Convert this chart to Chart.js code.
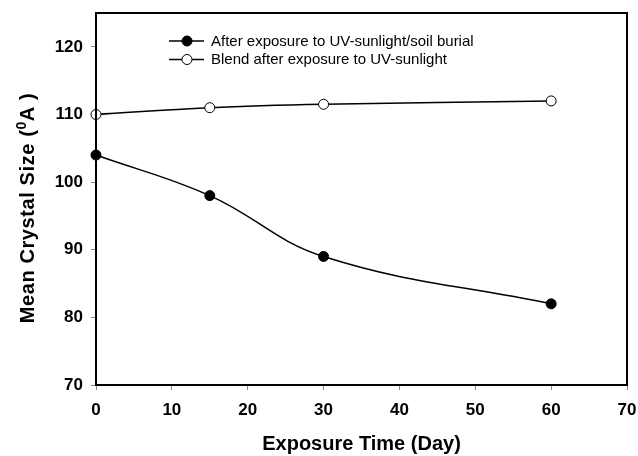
<!DOCTYPE html>
<html>
<head>
<meta charset="utf-8">
<script src="https://cdn.jsdelivr.net/npm/chart.js@4.4.0/dist/chart.umd.min.js"></script>
<style>
html,body{margin:0;padding:0;background:#fff;}
#wrap{width:638px;height:456px;position:relative;}
</style>
</head>
<body>
<div id="wrap"><canvas id="c" width="638" height="456"></canvas></div>
<script>
const days = [0, 15, 30, 60];
const soilBurial = [104, 98, 89, 82];
const blendUV = [110, 111, 111.5, 112];
const seriesNames = ["After exposure to UV-sunlight/soil burial", "Blend after exposure to UV-sunlight"];
const xTicks = [0, 10, 20, 30, 40, 50, 60, 70];
const yTicks = [70, 80, 90, 100, 110, 120];
const xTitle = "Exposure Time (Day)";
const yTitleParts = ["Mean Crystal Size (", "0", "A )"];

const FONT = "'Liberation Sans', Arial, sans-serif";

const frame = {
  id: 'frame',
  afterDatasetsDraw(chart) {
    const {ctx, chartArea: a} = chart;
    ctx.save();
    ctx.strokeStyle = '#000';
    ctx.lineWidth = 2;
    ctx.strokeRect(a.left, a.top, a.right - a.left, a.bottom - a.top);
    // legend
    const items = chart.data.datasets;
    ctx.font = "15px " + FONT;
    ctx.textBaseline = 'middle';
    items.forEach((ds, i) => {
      const y = 41 + i * 18.5;
      ctx.strokeStyle = '#000';
      ctx.lineWidth = 1.5;
      ctx.beginPath(); ctx.moveTo(169, y); ctx.lineTo(204, y); ctx.stroke();
      ctx.beginPath(); ctx.arc(187, y, 5, 0, Math.PI * 2);
      ctx.fillStyle = ds.pointBackgroundColor; ctx.fill();
      ctx.lineWidth = 1; ctx.stroke();
      ctx.fillStyle = '#000';
      ctx.fillText(ds.label, 211, y + 0.5);
    });
    ctx.restore();

    // y axis title (with superscript)
    ctx.save();
    const cy = (a.top + a.bottom) / 2 + 9;
    ctx.translate(34, cy);
    ctx.rotate(-Math.PI / 2);
    ctx.fillStyle = '#000';
    ctx.textBaseline = 'alphabetic';
    ctx.textAlign = 'left';
    if ('letterSpacing' in ctx) ctx.letterSpacing = '0.6px';
    const big = "bold 20px " + FONT, small = "bold 14px " + FONT;
    ctx.font = big; const w0 = ctx.measureText(yTitleParts[0]).width;
    const w2 = ctx.measureText(yTitleParts[2]).width;
    ctx.font = small; const w1 = ctx.measureText(yTitleParts[1]).width;
    let x = -(w0 + w1 + w2) / 2;
    ctx.font = big; ctx.fillText(yTitleParts[0], x, 0); x += w0;
    ctx.font = small; ctx.fillText(yTitleParts[1], x, -8); x += w1;
    ctx.font = big; ctx.fillText(yTitleParts[2], x, 0);
    ctx.restore();
  }
};

new Chart(document.getElementById('c'), {
  type: 'line',
  data: {
    datasets: [
      {
        label: seriesNames[0],
        data: days.map((d, i) => ({x: d, y: soilBurial[i]})),
        borderColor: '#000', borderWidth: 1.5,
        pointBackgroundColor: '#000', pointBorderColor: '#000',
        pointRadius: 5, pointBorderWidth: 1, tension: 0.4, fill: false
      },
      {
        label: seriesNames[1],
        data: days.map((d, i) => ({x: d, y: blendUV[i]})),
        borderColor: '#000', borderWidth: 1.5,
        pointBackgroundColor: '#fff', pointBorderColor: '#000',
        pointRadius: 5, pointBorderWidth: 1, tension: 0.4, fill: false
      }
    ]
  },
  options: {
    responsive: false,
    animation: false,
    clip: false,
    layout: {padding: {top: 13, right: 11, left: 0, bottom: 0}},
    plugins: {legend: {display: false}, tooltip: {enabled: false}},
    scales: {
      x: {
        type: 'linear', min: 0, max: 70,
        afterBuildTicks: s => { s.ticks = xTicks.map(v => ({value: v})); },
        afterFit: s => { s.height = 71; s.paddingLeft = 0; s.paddingRight = 0; },
        border: {display: true, color: '#000', width: 2},
        grid: {drawOnChartArea: false, drawTicks: true, tickLength: 5, color: '#888', tickWidth: 1},
        ticks: {color: '#000', font: {family: FONT, size: 17, weight: 'bold'}, padding: 10, maxRotation: 0},
        title: {display: true, text: xTitle, color: '#000', font: {family: FONT, size: 20, weight: 'bold'}, padding: {top: 4, bottom: 0}}
      },
      y: {
        type: 'linear', min: 70, max: 125,
        afterBuildTicks: s => { s.ticks = yTicks.map(v => ({value: v})); },
        afterFit: s => { s.width = 96; s.paddingTop = 0; s.paddingBottom = 0; },
        border: {display: true, color: '#000', width: 2},
        grid: {drawOnChartArea: false, drawTicks: true, tickLength: 5, color: '#888', tickWidth: 1},
        ticks: {color: '#000', font: {family: FONT, size: 17, weight: 'bold'}, padding: 8},
        title: {display: false}
      }
    }
  },
  plugins: [frame]
});
</script>
</body>
</html>
